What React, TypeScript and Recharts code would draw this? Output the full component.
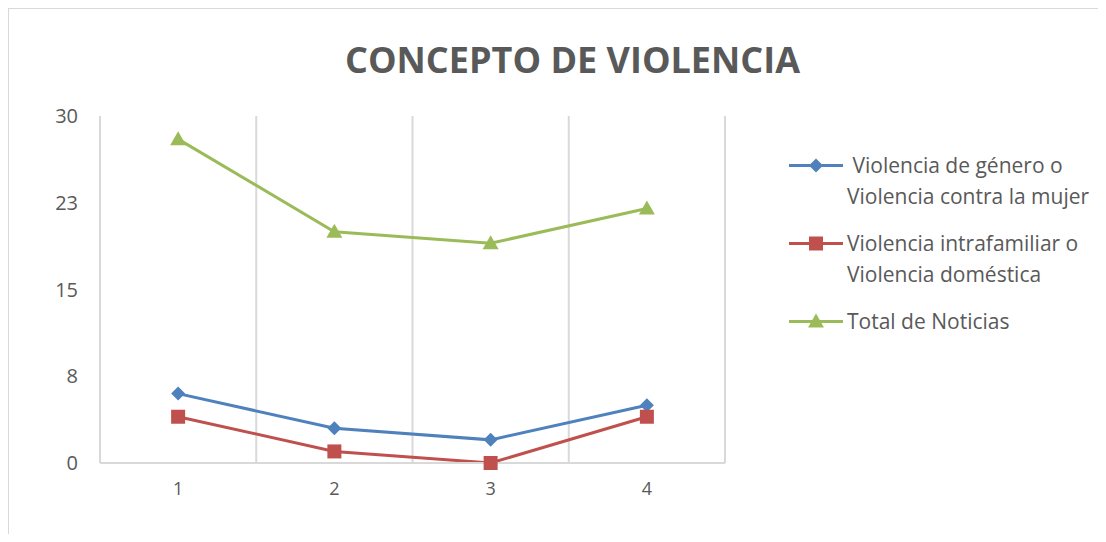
import React from 'react';
import { LineChart, Line, XAxis, YAxis, ReferenceLine } from 'recharts';

const categories = [1, 2, 3, 4];
const generoValues = [6, 3, 2, 5];
const intrafamiliarValues = [4, 1, 0, 4];
const totalValues = [28, 20, 19, 22];
const yTicks = [0, 7.5, 15, 22.5, 30];
const gridX = [0.5, 1.5, 2.5, 3.5, 4.5];

const SERIES = [
  { key: 'genero', name: ' Violencia de género o\nViolencia contra la mujer', color: '#4F81BD', shape: 'diamond' },
  { key: 'intra', name: 'Violencia intrafamiliar o\nViolencia doméstica', color: '#C0504D', shape: 'square' },
  { key: 'total', name: 'Total de Noticias', color: '#9BBB59', shape: 'triangle' },
];

const data = categories.map((c, i) => ({
  x: c,
  genero: generoValues[i],
  intra: intrafamiliarValues[i],
  total: totalValues[i],
}));

const FONT = '"Open Sans", "Liberation Sans", sans-serif';
const TEXT = '#595959';
const GRID = '#d9d9d9';

const Marker = ({ cx, cy, shape, color }: { cx: number; cy: number; shape: string; color: string }) => {
  if (shape === 'diamond') {
    const r = 7;
    return <polygon points={`${cx},${cy - r} ${cx + r},${cy} ${cx},${cy + r} ${cx - r},${cy}`} fill={color} />;
  }
  if (shape === 'square') {
    return <rect x={cx - 7} y={cy - 7} width={14} height={14} fill={color} />;
  }
  return <polygon points={`${cx},${cy - 8} ${cx + 8},${cy + 6} ${cx - 8},${cy + 6}`} fill={color} />;
};

const makeDot = (shape: string, color: string) => (props: any) => {
  const { cx, cy, index } = props;
  if (cx == null || cy == null) return <g key={index} />;
  return <Marker key={index} cx={cx} cy={cy} shape={shape} color={color} />;
};

const LegendBox = () => (
  <div style={{ fontFamily: FONT, fontSize: 21, color: TEXT }}>
    {SERIES.map((s) => {
      const lines = s.name.split('\n');
      return (
        <div key={s.key} style={{ display: 'flex', alignItems: 'flex-start', marginBottom: 16 }}>
          <svg width={58} height={31} style={{ flex: 'none' }}>
            <line x1={0} x2={54} y1={15.5} y2={15.5} stroke={s.color} strokeWidth={3} />
            <Marker cx={27} cy={15.5} shape={s.shape} color={s.color} />
          </svg>
          <div>
            {lines.map((l, i) => (
              <div key={i} style={{ lineHeight: '31px', whiteSpace: 'pre' }}>{l}</div>
            ))}
          </div>
        </div>
      );
    })}
  </div>
);

export default function App() {
  return (
    <div style={{ margin: -8, position: 'relative', width: 1106, height: 542, overflow: 'hidden', background: '#fff' }}>
      <div
        style={{
          position: 'absolute', left: 7, top: 7, right: 0, bottom: 0,
          borderTop: `2px solid ${GRID}`, borderLeft: `2px solid ${GRID}`,
        }}
      />
      <div
        style={{
          position: 'absolute', left: 0, width: 1145, top: 36, textAlign: 'center',
          fontFamily: FONT, fontWeight: 700, fontSize: 36, color: TEXT, lineHeight: '48px',
        }}
      >
        CONCEPTO DE VIOLENCIA
      </div>
      <div style={{ position: 'absolute', left: 0, top: 0 }}>
        <LineChart width={1106} height={542} data={data} margin={{ top: 116, right: 381, bottom: 0, left: 0 }}>
          {gridX.map((g) => (
            <ReferenceLine key={g} x={g} stroke={GRID} strokeWidth={2} />
          ))}
          <XAxis
            dataKey="x"
            type="number"
            domain={[0.5, 4.5]}
            ticks={categories}
            height={79}
            tickLine={false}
            tickSize={0}
            tickMargin={19}
            axisLine={{ stroke: GRID, strokeWidth: 2 }}
            tick={{ fill: TEXT, fontSize: 18, fontFamily: FONT }}
          />
          <YAxis
            domain={[0, 30]}
            ticks={yTicks}
            width={100}
            axisLine={false}
            tickLine={false}
            tickSize={0}
            tickMargin={22}
            tickFormatter={(v: number) => String(Math.round(v))}
            tick={{ fill: TEXT, fontSize: 20, fontFamily: FONT }}
          />
          {SERIES.map((s) => (
            <Line
              key={s.key}
              dataKey={s.key}
              name={s.name}
              stroke={s.color}
              strokeWidth={3}
              dot={makeDot(s.shape, s.color)}
              activeDot={false}
              isAnimationActive={false}
            />
          ))}
        </LineChart>
      </div>
      <div style={{ position: 'absolute', top: 150, left: 789 }}>
        <LegendBox />
      </div>
    </div>
  );
}
